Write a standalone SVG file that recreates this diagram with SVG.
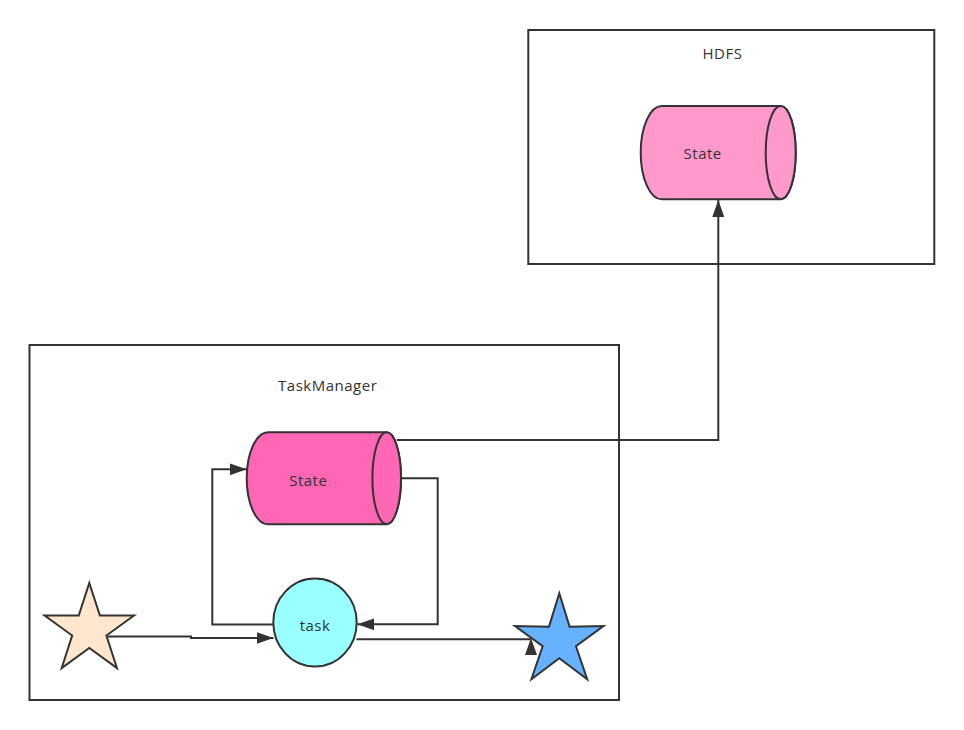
<svg xmlns="http://www.w3.org/2000/svg" width="964" height="730" viewBox="0 0 964 730">
<defs>
<style>
.box{fill:#ffffff;stroke:#333333;stroke-width:2}
.shape{stroke:#333333;stroke-width:2}
.lbl{font-family:"Open Sans","Noto Sans","Liberation Sans",sans-serif;font-size:15px;letter-spacing:0.5px;fill:#333333;text-anchor:middle;dominant-baseline:central}
.edge{fill:none;stroke:#333333;stroke-width:2}
.head{fill:#333333;stroke:none}
</style>
<marker id="arr" markerUnits="userSpaceOnUse" markerWidth="18" markerHeight="12" refX="17" refY="6" orient="auto">
<path d="M0,0 L17,6 L0,12 Z" class="head"/>
</marker>
</defs>
<rect width="964" height="730" fill="#ffffff"/>
<g id="hdfs">
<rect class="box" x="528.3" y="30" width="406" height="234"/>
<text class="lbl" x="722.5" y="53">HDFS</text>
</g>
<g id="taskmanager">
<rect class="box" x="29.5" y="345" width="589.5" height="355"/>
<text class="lbl" x="327.7" y="385">TaskManager</text>
</g>
<g id="hdfs-state">
<path class="shape" fill="#ff99cc" d="M661.7,106 H780.7 A15,46.65 0 0 1 780.7,199.3 H661.7 A21,46.65 0 0 1 661.7,106 Z"/>
<ellipse class="shape" fill="#ff99cc" cx="780.7" cy="152.65" rx="15" ry="46.65"/>
<text class="lbl" x="702.7" y="153.3">State</text>
</g>
<g id="tm-state">
<path class="shape" fill="#ff66b3" d="M268,432.3 H386.7 A14.3,46 0 0 1 386.7,524.3 H268 A21.3,46 0 0 1 268,432.3 Z"/>
<ellipse class="shape" fill="#ff66b3" cx="386.7" cy="478.3" rx="14.3" ry="46"/>
<text class="lbl" x="308.3" y="479.5">State</text>
</g>
<g id="task">
<ellipse class="shape" fill="#99ffff" cx="315" cy="622.5" rx="41.7" ry="44"/>
<text class="lbl" x="315" y="625">task</text>
</g>
<g id="source">
<polygon class="shape" fill="#ffe6cc" points="89.3,583 99.88,615.44 134,615.48 106.42,635.56 116.93,668.02 89.3,648 61.67,668.02 72.18,635.56 44.6,615.48 78.72,615.44"/>
</g>
<g id="sink">
<polygon class="shape" fill="#66b2ff" points="559.3,593.3 569.59,626.64 603.5,626.12 575.94,646.21 587.22,679.23 559.3,658.3 531.38,679.23 542.66,646.21 515,626.12 549.01,626.64"/>
</g>
<g id="connectors">
<path class="edge" d="M108,636.5 H191 V638 H273.5" marker-end="url(#arr)"/>
<path class="edge" d="M273.3,624.5 H212.3 V469.3 H246.7" marker-end="url(#arr)"/>
<path class="edge" d="M401,478.3 H437.7 V624.3 H357.3" marker-end="url(#arr)"/>
<path class="edge" d="M356.5,639.3 H531"/>
<polygon class="head" points="531,638 537,655 525,655"/>
<path class="edge" d="M396.7,440 H718.3 V200" marker-end="url(#arr)"/>
</g>
</svg>
